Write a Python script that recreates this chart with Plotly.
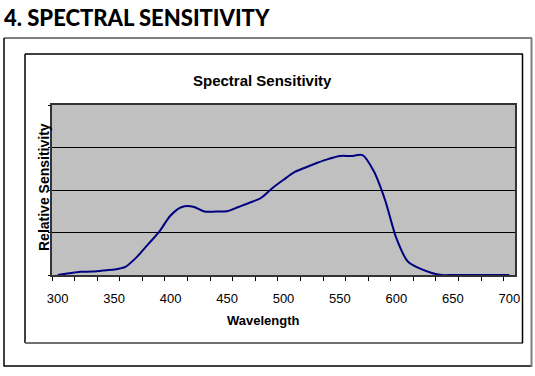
import plotly.graph_objects as go

wavelength = list(range(300, 701, 10))
sensitivity = [0, 1.0, 1.9, 2.0, 2.6, 3.2, 4.8, 10.5, 18, 25.5,
               35, 40, 40.2, 37.4, 37.3, 37.5, 40, 42.5, 45.3, 51,
               56, 60.6, 63.4, 66, 68.3, 70, 70, 70.5, 61, 44,
               21.5, 8, 4, 1.5, 0, 0, 0, 0, 0, 0, 0]
label_ticks = [300, 350, 400, 450, 500, 550, 600, 650, 700]
minor_ticks = list(range(295, 706, 20))
y_ticks = [0, 25, 50, 75, 100]

W, H = 535, 376
L, R, T, B = 52, 515, 105, 275

def px(x):
    return (x - L) / (R - L)

def py(y):
    return (B - y) / (B - T)

fig = go.Figure()
fig.add_trace(go.Scatter(
    x=wavelength, y=sensitivity, mode="lines",
    line=dict(color="#000080", width=2, shape="spline", smoothing=0.8),
    hoverinfo="x+y", showlegend=False))

shapes = []
def line(x0, y0, x1, y1, color, width):
    shapes.append(dict(type="line", xref="paper", yref="paper",
                       x0=px(x0), y0=py(y0), x1=px(x1), y1=py(y1),
                       line=dict(color=color, width=width), layer="above"))

# outer frame
line(4, 38, 532, 38, "#808080", 2)
line(4, 38, 4, 366.5, "#000000", 1.5)
line(4, 366, 532, 366, "#000000", 1.5)
line(531.5, 38, 531.5, 366.5, "#808080", 2)
# inner chart box
line(25, 54, 523, 54, "#404040", 2)
line(25, 54, 25, 343, "#000000", 1.5)
line(25, 343, 523, 343, "#707070", 2)
line(522.5, 54, 522.5, 343, "#000000", 1.5)

annotations = [
    dict(text="4. SPECTRAL SENSITIVITY", xref="paper", yref="paper",
         x=px(2), y=py(2), xanchor="left", yanchor="top", showarrow=False,
         font=dict(family="Lato, DejaVu Sans", size=22, weight=900, color="#000")),
    dict(text="<b>Spectral Sensitivity</b>", xref="paper", yref="paper",
         x=px(262), y=py(80), xanchor="center", yanchor="middle", showarrow=False,
         font=dict(family="Liberation Sans, Arial", size=15, color="#000")),
    dict(text="<b>Relative Sensitivity</b>", xref="paper", yref="paper",
         x=px(44), y=py(187), xanchor="center", yanchor="middle", showarrow=False,
         textangle=-90,
         font=dict(family="Liberation Sans, Arial", size=14, color="#000")),
    dict(text="<b>Wavelength</b>", xref="paper", yref="paper",
         x=px(263), y=py(320), xanchor="center", yanchor="middle", showarrow=False,
         font=dict(family="Liberation Sans, Arial", size=13, color="#000")),
]

fig.update_layout(
    width=W, height=H,
    margin=dict(l=L, r=W - R, t=T, b=H - B, pad=0),
    paper_bgcolor="white", plot_bgcolor="#C0C0C0",
    shapes=shapes, annotations=annotations,
    font=dict(family="Liberation Sans, Arial", size=13, color="#000"),
    xaxis=dict(range=[295, 705], tickmode="array", tickvals=label_ticks,
               ticks="outside", ticklen=11, tickcolor="rgba(0,0,0,0)",
               showgrid=False, zeroline=False, showline=True, mirror=True,
               linecolor="#333333", linewidth=1.5,
               tickfont=dict(size=13, color="#000"),
               minor=dict(tickmode="array", tickvals=minor_ticks,
                          ticks="outside", ticklen=4, tickcolor="#000",
                          tickwidth=1, showgrid=False)),
    yaxis=dict(range=[0, 100], tickmode="array", tickvals=y_ticks,
               showticklabels=False, ticks="outside", ticklen=2,
               tickcolor="#000", showgrid=True, gridcolor="#000000",
               gridwidth=1, zeroline=False, showline=True, mirror=True,
               linecolor="#333333", linewidth=1.5),
)

fig.write_html("out.html", config={"displayModeBar": False},
               post_script="document.body.style.margin='0';")
